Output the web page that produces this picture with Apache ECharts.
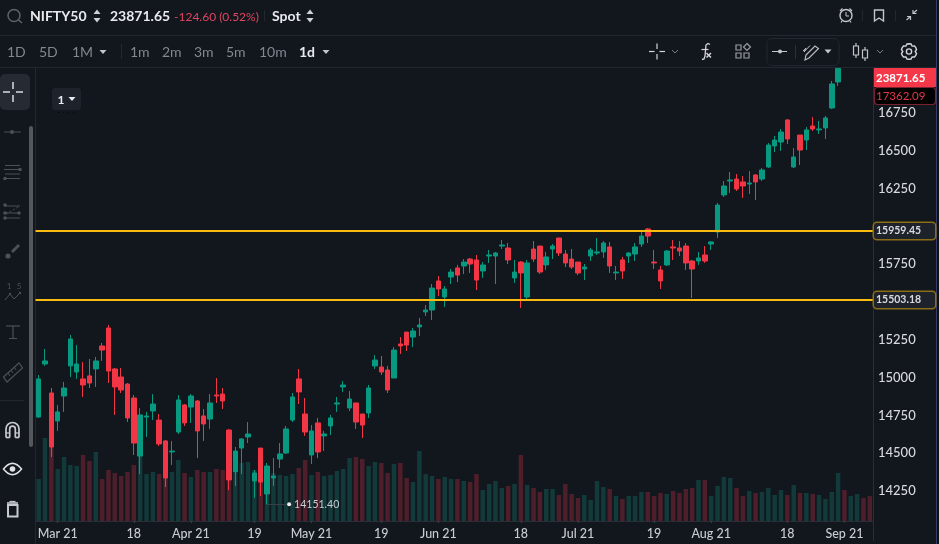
<!DOCTYPE html>
<html><head><meta charset="utf-8">
<style>html,body{margin:0;padding:0;background:#12161d;}#c{width:939px;height:544px;}</style>
<script src="https://cdn.jsdelivr.net/npm/echarts@6/dist/echarts.min.js"></script>
</head><body><div id="c"></div>
<script>
// [open, close, low, high]
const ohlc = [
[14729,14981,14723,15007],[15080,15100,15067,15179],[14888,14531,14465,14921],[14703,14763,14637,14809],
[14868,14921,14763,14961],[15067,15245,14994,15272],[15027,15080,14981,15205],[14981,14941,14862,15093],
[15001,14954,14921,15113],[15047,15100,14928,15126],[15199,15172,15100,15219],[15318,15033,14954,15338],
[15047,14928,14743,15054],[14994,14908,14888,15053],[14947,14723,14696,14954],[14855,14557,14478,14875],
[14471,14743,14352,14789],[14729,14736,14597,14763],[14769,14815,14709,14881],[14709,14551,14537,14749],
[14571,14326,14266,14577],[14498,14504,14412,14571],[14630,14842,14617,14875],[14809,14690,14670,14815],
[14795,14868,14690,14881],[14835,14637,14458,14842],[14736,14683,14571,14782],[14716,14822,14650,14881],
[14875,14868,14822,14987],[14881,14835,14782,14921],[14643,14313,14246,14650],[14366,14504,14273,14531],
[14524,14584,14352,14590],[14597,14617,14557,14696],[14306,14359,14194,14379],[14524,14299,14207,14524],
[14220,14405,14151.40,14425],[14326,14339,14273,14458],[14451,14485,14392,14557],[14491,14650,14485,14670],
[14709,14862,14696,14888],[14981,14895,14815,15047],[14749,14630,14604,14855],[14478,14637,14418,14676],
[14690,14498,14458,14723],[14604,14617,14504,14637],[14670,14723,14610,14743],[14815,14822,14763,14862],
[14928,14941,14895,14967],[14789,14848,14769,14901],[14822,14696,14650,14822],[14749,14676,14590,14749],
[14756,14921,14723,14941],[15067,15106,15047,15139],[15060,15027,15007,15133],[15040,14908,14888,15067],
[14987,15172,14987,15192],[15212,15199,15146,15258],[15291,15205,15166,15291],[15258,15298,15192,15318],
[15325,15338,15265,15384],[15424,15437,15397,15470],[15437,15582,15371,15609],[15629,15576,15530,15662],
[15523,15576,15457,15596],[15655,15688,15609,15708],[15715,15668,15622,15735],[15728,15754,15675,15774],
[15774,15741,15682,15781],[15768,15635,15569,15801],[15695,15735,15649,15754],[15794,15801,15748,15834],
[15794,15814,15609,15821],[15860,15867,15840,15900],[15847,15768,15741,15880],[15649,15688,15616,15768],
[15754,15682,15450,15761],[15523,15748,15510,15768],[15840,15774,15754,15893],[15860,15688,15675,15860],
[15735,15788,15702,15821],[15840,15860,15774,15873],[15913,15814,15794,15913],[15807,15748,15721,15834],
[15774,15721,15708,15840],[15754,15682,15668,15754],[15708,15721,15635,15741],[15794,15834,15761,15847],
[15814,15821,15801,15913],[15821,15880,15781,15893],[15854,15728,15682,15887],[15682,15688,15635,15728],
[15768,15695,15642,15788],[15794,15814,15748,15821],[15807,15854,15761,15880],[15873,15926,15854,15953],
[15973,15926,15880,15979],[15754,15748,15708,15834],[15702,15629,15576,15728],[15735,15827,15728,15834],
[15854,15847,15768,15900],[15847,15827,15794,15893],[15860,15748,15702,15880],[15761,15708,15516,15768],
[15761,15781,15735,15821],[15801,15761,15748,15860],[15873,15887,15834,15893],[15953,16131,15913,16145],
[16198,16257,16184,16290],[16290,16297,16211,16350],[16303,16237,16224,16336],[16284,16257,16178,16323],
[16270,16277,16204,16356],[16330,16284,16165,16336],[16303,16363,16290,16376],[16383,16528,16376,16541],
[16522,16561,16482,16588],[16548,16614,16489,16634],[16694,16568,16535,16700],[16383,16449,16376,16508],
[16594,16495,16396,16594],[16561,16628,16495,16647],[16654,16634,16621,16713],[16628,16634,16601,16687],
[16641,16707,16568,16720],[16773,16932,16766,16952],[16945,17035,16919,17035],[17140,17076,17055,17155],
[17080,17234,17065,17245],[17235,17353,17230,17380],[17370,17324,17255,17380],[17400,17362.09,17340,17436]
];
const volumes = [
42,83,74,52,64,56,55,66,60,69, 42,51,48,45,49,56,65,47,49,47,
44,49,61,48,44,51,49,49,52,51, 44,48,58,59,51,46,49,48,46,45,
47,53,61,46,49,45,46,50,52,63, 64,62,55,59,58,48,57,58,43,39,
70,47,45,42,44,42,42,40,39,47, 31,37,40,33,35,37,66,36,33,29,
32,32,26,37,27,23,26,21,40,34, 32,25,22,25,25,29,29,25,28,27,
30,28,32,33,41,41,25,35,44,43, 33,25,30,28,29,33,26,31,26,36,
28,28,27,26,22,29,48,31,25,27, 23,25
];
const xTickIndex = [3,15,24,34,43,54,63,76,85,97,106,118,127];
const xTickText = ['Mar 21','18','Apr 21','19','May 21','19','Jun 21','18','Jul 21','19','Aug 21','18','Sep 21'];
const yTicks = [14250,14500,14750,15000,15250,15750,16250,16500,16750];
const levelLines = [15959.45,15503.18];
const priceMin = 14041.4, priceMax = 17037.5;
const lowIndex = 36, lowValue = 14151.40;

const GREEN='#089981', RED='#f23645', VGREEN='#123a3a', VRED='#4e1f2a';
const BG='#12161d', RULE='#23272e';
const categories = ohlc.map((_,i)=>i);

// ---- chrome helpers ----
const g=[];
const L=(x1,y1,x2,y2,c,w)=>g.push({type:'line',silent:true,shape:{x1,y1,x2,y2},style:{stroke:c,lineWidth:w||1}});
const R=(x,y,width,height,o)=>g.push({type:'rect',silent:true,shape:{x,y,width,height,r:o.r||0},style:{fill:o.fill||'none',stroke:o.stroke||'none',lineWidth:o.w||1}});
const C=(cx,cy,r,o)=>g.push({type:'circle',silent:true,shape:{cx,cy,r},style:{fill:o.fill||'none',stroke:o.stroke||'none',lineWidth:o.w||1}});
const PL=(points,c,w)=>g.push({type:'polyline',silent:true,shape:{points},style:{stroke:c,lineWidth:w||1,fill:'none'}});
const PG=(points,o)=>g.push({type:'polygon',silent:true,shape:{points},style:{fill:o.fill||'none',stroke:o.stroke||'none',lineWidth:o.w||1}});
const T=(text,x,y,font,fill,align)=>g.push({type:'text',silent:true,x,y,style:{text,font,fill,align:align||'left',verticalAlign:'middle'}});
const AR=(cx,cy,r,c,w)=>g.push({type:'arc',silent:true,shape:{cx,cy,r,startAngle:Math.PI,endAngle:Math.PI*2,clockwise:true},style:{fill:'none',stroke:c,lineWidth:w||1}});
const caret=(x,y,c)=>PG([[x-3.5,y-2],[x+3.5,y-2],[x,y+2]],{fill:c});
const chev=(x,y,c)=>PL([[x-3,y-1.5],[x,y+1.5],[x+3,y-1.5]],c,1);
const sort=(x,c)=>{PG([[x-3.5,14],[x+3.5,14],[x,9.5]],{fill:c});PG([[x-3.5,18],[x+3.5,18],[x,22.5]],{fill:c});};

// frame
L(0,35.5,936,35.5,RULE); L(0,67.5,936,67.5,RULE);
L(35.5,67,35.5,544,RULE); L(873.5,521,873.5,541,'#2a2e36');
R(936,0,1,544,{fill:'#3a3a66'});
R(937,0,2,544,{fill:'#0c0f14'});

// header row
C(14,15.5,6,{stroke:'#5e6269',w:1.5}); L(18.5,20,22,23,'#5e6269',1.5);
T('NIFTY50',30,16,'bold 14px Lato','#e8eaed');
sort(97,'#d0d2d6');
T('23871.65',110,16,'bold 14px Lato','#e8eaed');
T('-124.60 (0.52%)',174,17,'12px Lato','#e0455f');
L(264.5,10,264.5,21,'#23272e');
T('Spot',272,16,'bold 14px Lato','#e8eaed');
sort(310,'#d0d2d6');
// alarm
C(846,15.5,6,{stroke:'#c4c6ca',w:1.4});
PL([[846,12],[846,16],[849,16]],'#c4c6ca',1);
L(840,11,842.5,8.5,'#c4c6ca',1.3); L(849.5,8.5,852,11,'#c4c6ca',1.3);
L(842,21,841,22.5,'#c4c6ca',1.2); L(850,21,851,22.5,'#c4c6ca',1.2);
L(862.5,10,862.5,21,'#23272e');
// bookmark
PG([[874.5,10],[883.5,10],[883.5,21],[879,18],[874.5,21]],{stroke:'#c4c6ca',w:1.4});
L(895.5,10,895.5,21,'#23272e');
// compress
L(906.5,20,910.5,16.5,'#c4c6ca',1.2); PL([[907,16.5],[910.5,16.5],[910.5,20]],'#c4c6ca',1.2);
L(917,10,913,13.5,'#c4c6ca',1.2); PL([[913,10],[913,13.5],[916.5,13.5]],'#c4c6ca',1.2);

// timeframe row
const MUT='#83878e';
[['1D',7],['5D',39],['1M',72],['1m',130],['2m',162],['3m',194],['5m',226],['10m',259]].forEach(a=>T(a[0],a[1],52,'14px Lato',MUT));
caret(103,52,'#c4c6ca');
L(121.5,44,121.5,59,'#23272e');
T('1d',299,52,'bold 14px Lato','#e8eaed');
caret(326,52,'#c4c6ca');
// crosshair tool
const cross=(x,y,a,b,c,w)=>{L(x-a,y,x-b,y,c,w);L(x+b,y,x+a,y,c,w);L(x,y-a,x,y-b,c,w);L(x,y+b,x,y+a,c,w);};
cross(657,51.5,8,2.5,'#d4d6da',1.2);
chev(675,51.5,'#777b82');
// fx
PL([[710,44.5],[708,43.5],[706,45],[705,56],[704,59],[702,59.5]],'#d4d6da',1.3);
L(701.5,49.5,708.5,49.5,'#d4d6da',1.2);
L(706.5,53,711,57.5,'#d4d6da',1.5); L(711,53,706.5,57.5,'#d4d6da',1.5);
// indicators
R(736,45,5,5,{stroke:'#9a9da3',w:1.2}); R(736,53,5,5,{stroke:'#9a9da3',w:1.2}); R(744,53,5,5,{stroke:'#9a9da3',w:1.2});
PG([[747,43.5],[750.5,47],[747,50.5],[743.5,47]],{stroke:'#9a9da3',w:1.2});
// drawing group
R(767,38.5,72,27,{stroke:'#22262e',r:5});
L(772,51.5,787,51.5,'#c4c6ca',1); C(780,51.5,2,{fill:'#c4c6ca'});
L(795.5,45,795.5,59,'#2a2e36');
PG([[806,55],[815,46],[818.5,48.5],[809,58],[805,60]],{stroke:'#b8babe',w:1.2});
PL([[803,51],[806,48],[804,52],[810,45.5]],'#b8babe',1);
caret(828,51.5,'#c4c6ca');
// chart type
R(853.5,46,5,9,{stroke:'#c4c6ca',w:1.2}); L(856,43,856,46,'#c4c6ca',1.2); L(856,55,856,58,'#c4c6ca',1.2);
R(862.5,50,5,8,{stroke:'#c4c6ca',w:1.2}); L(865,47,865,50,'#c4c6ca',1.2); L(865,58,865,61,'#c4c6ca',1.2);
chev(880,51.5,'#777b82');
// gear
(function(){const pts=[];for(let i=0;i<24;i++){const a=Math.PI*2*i/24-Math.PI/2;const ph=i%4;const r=(ph===0||ph===1||ph===3)?7.8:6.2;pts.push([909+r*Math.cos(a),51.5+r*Math.sin(a)]);}
PG(pts,{stroke:'#d4d6da',w:1.4});C(909,51.5,2.6,{stroke:'#d4d6da',w:1.4});})();

// left toolbar
R(0,74,30,36,{fill:'#262a33',r:5});
cross(13,92,10,3,'#e8eaed',1.4);
R(29,126,4,321,{fill:'#54575c',r:2});
const IC='#4c5057';
L(4,132,21,132,IC,1); C(12,132,2,{fill:IC});
L(5,165.5,20,165.5,IC,1); L(4,169.5,20,169.5,IC,1); C(20,169.5,1.8,{fill:IC}); L(5,178.5,20,178.5,IC,1); C(5,178.5,1.8,{fill:IC}); L(5,174,20,174,IC,1);
C(5,205,1.8,{fill:IC}); L(5,206,20,206,IC,1); g.push({type:'line',silent:true,shape:{x1:6,y1:214,x2:20,y2:206},style:{stroke:IC,lineWidth:1,lineDash:[2,2]}});
L(5,213,19,213,IC,1); C(19,213,1.8,{fill:IC}); L(5,218,20,218,IC,1); C(5,218,1.8,{fill:IC}); C(5,213,1.8,{fill:IC});
L(12,252,19,245,IC,3); C(8,256,2.6,{fill:IC});
PL([[5,300],[10,294],[14,299],[20,293]],IC,1); C(10,294,1.2,{fill:IC}); C(20,293,1.2,{fill:IC});
T('1',9,286,'8px Lato',IC,'center'); T('5',19,286,'8px Lato',IC,'center');
L(6,326,20,326,IC,1.2); L(13,326,13,338,IC,1.2); L(9,338.5,17,338.5,IC,1);
PG([[3.5,377],[19,363],[22.5,368],[7,382]],{stroke:IC,w:1.2});
L(8,373,10,376,IC,1); L(11,370,13,373,IC,1); L(14,367,16,370,IC,1);
L(0,400.5,24,400.5,RULE);
// magnet
const MG='#c8cacd';
AR(12.5,429,6.5,MG,1.7); AR(12.5,429,2.8,MG,1.7);
L(6,429,6,437.5,MG,1.7); L(9.7,429,9.7,437.5,MG,1.7); L(15.3,429,15.3,437.5,MG,1.7); L(19,429,19,437.5,MG,1.7);
L(6,437.5,9.7,437.5,MG,1.7); L(15.3,437.5,19,437.5,MG,1.7);
L(6,433,9.7,433,MG,1.2); L(15.3,433,19,433,MG,1.2);
// eye
(function(){const up=[],dn=[];for(let i=0;i<=16;i++){const t=i/16*2-1;const x=12.5+9*t,h=5.6*(1-t*t);up.push([x,469-h]);dn.unshift([x,469+h]);}
PG(up.concat(dn),{stroke:'#e0e2e5',w:1.6});C(12.5,469,2.8,{fill:'#e0e2e5'});})();
// trash
L(7,503,18,503,MG,1.6); L(9.5,501.5,15.5,501.5,MG,1.2);
R(8,505,9.5,11.5,{stroke:MG,w:2});

// interval pill
R(52,88,29,22,{fill:'#1e222a',r:3});
T('1',57.5,100,'bold 12px Lato','#e8eaed');
caret(72,99,'#e8eaed');
g.push({type:'line',silent:true,shape:{x1:58,y1:112.5,x2:75,y2:112.5},style:{stroke:'#05070a',lineWidth:1,lineDash:[1,4]}});

// price tags
R(874,68,62,19,{fill:'#f4384a'});
T('23871.65',876,78,'bold 11.5px Lato','#ffffff');
R(874.5,87.5,61,17,{fill:'#000000',stroke:'#7a2232',r:3,w:1.2});
T('17362.09',876,96,'11.5px Lato','#e23a4b');

const gold='#f9bb0f';
const option={
  animation:false,
  backgroundColor:BG,
  textStyle:{fontFamily:'Lato'},
  grid:{left:35.5,right:66,top:68,bottom:23,containLabel:false},
  xAxis:{type:'category',data:categories,boundaryGap:true,
    axisLine:{show:true,lineStyle:{color:'#2a2e36'}},
    axisTick:{show:true,length:2,alignWithLabel:true,interval:(i)=>xTickIndex.includes(i),lineStyle:{color:'#3a3e46'}},
    splitLine:{show:false},
    axisLabel:{interval:(i)=>xTickIndex.includes(i),hideOverlap:false,margin:6,color:'#c9ccd1',fontSize:12.5,fontWeight:500,fontFamily:'Lato',
      formatter:(v,i)=>{const k=xTickIndex.indexOf(Number(v));return k<0?'':xTickText[k];}}},
  yAxis:[
    {type:'value',position:'right',min:priceMin,max:priceMax,scale:true,
     axisLine:{show:true,lineStyle:{color:'#2a2e36'}},axisTick:{show:false},splitLine:{show:false},
     axisLabel:{customValues:yTicks,margin:5,color:'#d8dade',fontSize:13,fontWeight:500,fontFamily:'Lato',verticalAlign:'top',lineHeight:3,formatter:(v)=>String(v)}},
    {type:'value',min:0,max:453,show:false,splitLine:{show:false}}
  ],
  series:[
    {name:'Volume',type:'bar',yAxisIndex:1,z:1,barWidth:4.5,animation:false,
     data:volumes.map((v,i)=>({value:v,itemStyle:{color:ohlc[i][1]>=ohlc[i][0]?VGREEN:VRED}}))},
    {name:'NIFTY50',type:'candlestick',z:3,barWidth:5,data:ohlc,
     itemStyle:{color:GREEN,color0:RED,borderColor:GREEN,borderColor0:RED,borderWidth:1},
     markLine:{silent:true,symbol:'none',animation:false,
       data:[
         ...levelLines.map(v=>({yAxis:v,lineStyle:{color:gold,width:2,type:'solid'},
           label:{show:true,position:'end',distance:1,formatter:()=>v.toFixed(2),color:'#d8dade',fontSize:10.5,fontWeight:'bold',fontFamily:'Lato',
             backgroundColor:'#1e222a',borderColor:'#8a6d14',borderWidth:1.5,borderRadius:3,padding:[3,6,2,2],width:53}})),
         [{coord:[lowIndex,lowValue],lineStyle:{color:'#3a3e46',width:1,type:'solid'},label:{show:false}},{coord:[lowIndex+3,lowValue]}]
       ]},
     markPoint:{silent:true,animation:false,
       data:[{coord:[lowIndex+3,lowValue],value:lowValue,symbol:'circle',symbolSize:4,symbolOffset:[3,0],itemStyle:{color:'#f0f0f0'},
         label:{show:true,position:'right',distance:3,formatter:()=>lowValue.toFixed(2),color:'#c9ccd1',fontSize:10.5,fontFamily:'Lato'}}]}
    }
  ],
  graphic:{elements:g}
};
const chart=echarts.init(document.getElementById('c'),null,{width:939,height:544,renderer:'canvas'});
chart.setOption(option);
</script>
</body></html>
